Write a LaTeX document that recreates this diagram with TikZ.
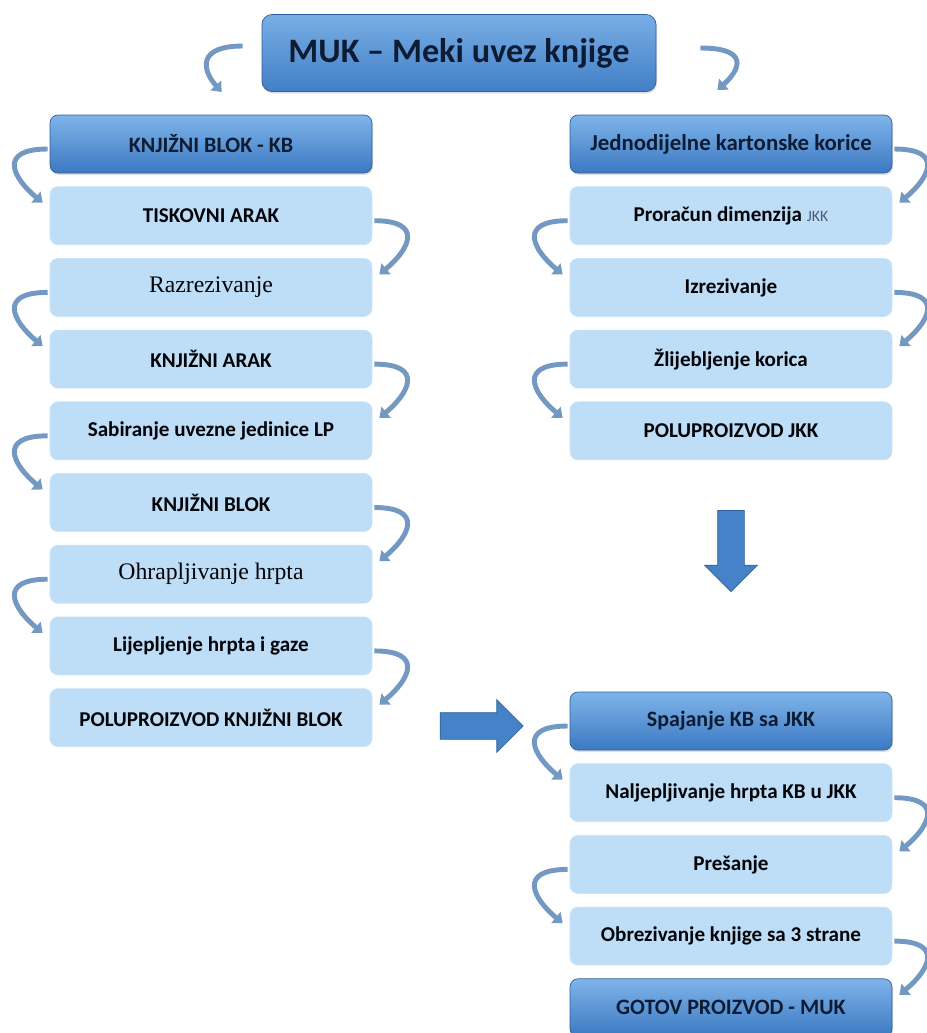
\documentclass[tikz,border=0pt]{standalone}
\usepackage{fontspec}
\setmainfont{Carlito}
\newfontfamily\timesfont{Liberation Serif}
\usepackage{tikz}
\usetikzlibrary{positioning}
\usetikzlibrary{shapes.arrows}
\usetikzlibrary{arrows.meta}
\usetikzlibrary{shadows}
\definecolor{hdtop}{HTML}{7FB4EA}
\definecolor{hdbot}{HTML}{3B79C2}
\definecolor{stepfill}{HTML}{BEDDF6}
\definecolor{turncol}{HTML}{7398C2}
\definecolor{inkblue}{HTML}{0E1C33}
\definecolor{jkkgray}{HTML}{4A5E78}
\tikzstyle{header} = [rectangle, rounded corners=0.16cm, top color=hdtop,
bottom color=hdbot, draw=hdbot!80!black, line width=0.4pt,
minimum width=6.44cm, minimum height=1.16cm, text=inkblue,
font=\bfseries\fontsize{12.5}{14}\selectfont,
drop shadow={opacity=0.25, shadow xshift=0.02cm, shadow yshift=-0.04cm}]
\tikzstyle{procbox} = [rectangle, rounded corners=0.16cm, fill=stepfill,
draw=stepfill!80!white, minimum width=6.44cm, minimum height=1.16cm,
text=black!85!inkblue, font=\bfseries\fontsize{12}{14}\selectfont]
\tikzstyle{serifbox} = [procbox, font=\timesfont\fontsize{13.5}{15}\selectfont]
\tikzstyle{turn} = [draw=turncol, line width=2.8pt, ->,
>={Triangle[width=8pt,length=5pt]}]
\tikzstyle{bigarrow} = [single arrow, fill=hdbot!85!hdtop, draw=hdbot!80!black,
line width=0.4pt, inner xsep=0pt, inner ysep=0.26cm,
single arrow head extend=0.26cm]
\newcommand{\turnleft}[2]{ %
  % Bend round the left edge from #1 down to #2.
  \draw[turn] ([xshift=-0.04cm,yshift=-0.1cm]#1.west) .. controls +(-1.0,0)
    and +(-0.6,0.5) .. ([xshift=-0.14cm,yshift=0.26cm]#2.west) ; %
}
\newcommand{\turnright}[2]{ %
  % Same bend, round the right edge.
  \draw[turn] ([xshift=0.04cm,yshift=-0.1cm]#1.east) .. controls +(1.0,0)
    and +(0.6,0.5) .. ([xshift=0.14cm,yshift=0.26cm]#2.east) ; %
}
\begin{document}
\begin{tikzpicture}[node distance=0.26cm]

	\useasboundingbox (0,0) rectangle (18.54,-20.66);

	\node[header, minimum width=7.88cm, minimum height=1.54cm, rounded corners=0.2cm,
	  top color=hdtop!90!hdbot, bottom color=hdbot!90!hdtop,
	  font=\bfseries\fontsize{19.5}{22}\selectfont] (title) at (9.18,-1.06)
	  {MUK -- Meki uvez knjige};

	% knjizni blok
	\node[header] (kb) at (4.22,-2.88) {KNJIŽNI BLOK - KB};
	\node[procbox, below=of kb] (tisk) {TISKOVNI ARAK};
	\node[serifbox, below=of tisk] (raz) {Razrezivanje};
	\node[procbox, below=of raz] (karak) {KNJIŽNI ARAK};
	\node[procbox, below=of karak] (sab) {Sabiranje uvezne jedinice LP};
	\node[procbox, below=of sab] (kblok) {KNJIŽNI BLOK};
	\node[serifbox, below=of kblok] (ohr) {Ohrapljivanje hrpta};
	\node[procbox, below=of ohr] (lij) {Lijepljenje hrpta i gaze};
	\node[procbox, below=of lij] (polukb) {POLUPROIZVOD KNJIŽNI BLOK};

	% korice
	\node[header, font=\bfseries\fontsize{13}{15}\selectfont] (jkk) at (14.62,-2.88)
	  {Jednodijelne kartonske korice};
	\node[procbox, below=of jkk] (pror)
	  {Proračun dimenzija {\mdseries\color{jkkgray}\fontsize{9}{10}\selectfont JKK}};
	\node[procbox, below=of pror] (izr) {Izrezivanje};
	\node[procbox, below=of izr] (zlij) {Žlijebljenje korica};
	\node[procbox, below=of zlij] (polujkk) {POLUPROIZVOD JKK};

	% spajanje
	\node[header] (spaj) at (14.62,-14.42) {Spajanje KB sa JKK};
	\node[procbox, below=of spaj] (nalj) {Naljepljivanje hrpta KB u JKK};
	\node[procbox, below=of nalj] (pres) {Prešanje};
	\node[procbox, below=of pres] (obrez) {Obrezivanje knjige sa 3 strane};
	\node[header, below=of obrez] (gotov) {GOTOV PROIZVOD - MUK};

	\node[bigarrow, minimum height=1.62cm, shape border rotate=270,
	  inner xsep=0.26cm, inner ysep=0pt, below=1.0cm of polujkk] (down) {};
	\node[bigarrow, minimum height=1.66cm] (join) at (9.5,-14.52) {};

	\draw[turn] ([xshift=-0.38cm,yshift=0.14cm]title.west) .. controls +(-0.9,0)
	  and +(-0.4,0.45) .. ([xshift=-0.8cm,yshift=-0.78cm]title.west);
	\draw[turn] ([xshift=0.88cm,yshift=0.1cm]title.east) .. controls +(1.0,0)
	  and +(0.45,0.4) .. ([xshift=1.22cm,yshift=-0.74cm]title.east);

	\foreach \a/\b in {kb/tisk, raz/karak, sab/kblok, ohr/lij,
	  pror/izr, zlij/polujkk, spaj/nalj, pres/obrez}
	  {\turnleft{\a}{\b}}
	\foreach \a/\b in {tisk/raz, karak/sab, kblok/ohr, lij/polukb,
	  jkk/pror, izr/zlij, nalj/pres, obrez/gotov}
	  {\turnright{\a}{\b}}

\end{tikzpicture}
\end{document}
